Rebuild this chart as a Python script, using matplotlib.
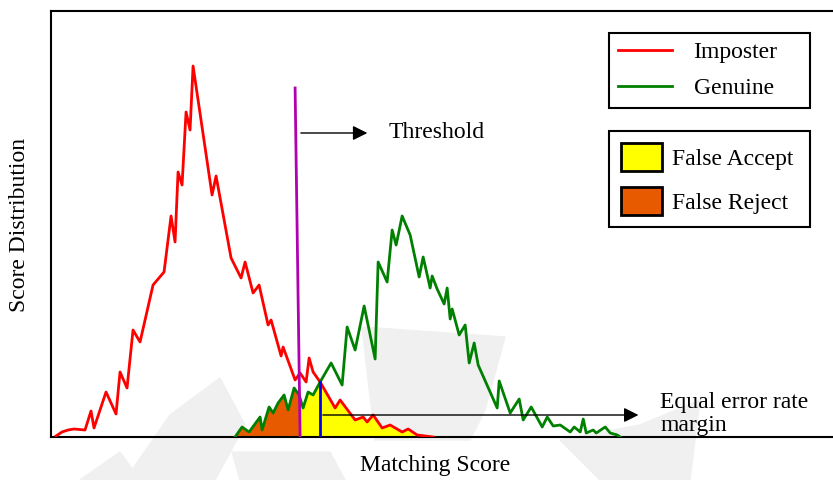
import matplotlib
matplotlib.use("Agg")
import matplotlib.pyplot as plt
from matplotlib.lines import Line2D
from matplotlib.patches import Patch
import numpy as np

plt.rcParams['font.family'] = ['Liberation Serif', 'DejaVu Serif']

# score histograms (score, count)
imposter_x = [5, 11, 17, 23, 34, 40, 43, 55, 65, 69, 76, 82, 89, 102, 113, 120, 124, 127, 131,
              135, 139, 142, 161, 165, 180, 190, 194, 202, 208, 217, 220, 230, 232, 244, 249,
              255, 258, 262, 269, 284, 289, 304, 312, 316, 322, 331, 339, 351, 357, 366, 382]
imposter_y = [1, 5, 7, 8, 7, 26, 9, 45, 23, 65, 49, 107, 95, 152, 165, 221, 195, 265, 252,
              325, 307, 371, 242, 261, 179, 159, 175, 144, 152, 112, 117, 81, 90, 57, 64,
              55, 79, 65, 55, 29, 37, 17, 20, 15, 22, 9, 12, 5, 8, 2, 0]

genuine_x = [184, 191, 198, 209, 211, 218, 222, 227, 233, 237, 243, 248, 252, 257, 262, 269,
             280, 291, 296, 304, 313, 324, 327, 336, 341, 345, 351, 359, 368, 372, 379, 381,
             386, 393, 396, 399, 401, 408, 414, 418, 423, 427, 446, 448, 459, 468, 472, 480,
             491, 496, 502, 509, 519, 523, 529, 532, 535, 542, 545, 554, 559, 566, 569]
genuine_y = [0, 10, 5, 20, 7, 30, 24, 34, 42, 27, 49, 42, 29, 45, 42, 55,
             74, 52, 110, 87, 131, 78, 175, 155, 207, 192, 221, 202, 160, 180, 149, 161,
             148, 133, 149, 118, 128, 102, 112, 74, 94, 72, 29, 56, 24, 38, 17, 30,
             10, 20, 11, 12, 5, 10, 5, 18, 4, 7, 4, 10, 4, 2, 0]

threshold_x = [244, 249]
threshold_y = [349, 0]
eer_x = 269

fig = plt.figure(figsize=(8.33, 4.8), dpi=100)
W, H = 833, 480


def fx(px):
    return px / W


def fy(py):
    return 1 - py / H


# faint watermark behind the plot
wm = '#f0f0f0'
blades = [
    [(125, 480), (170, 415), (220, 378), (245, 425), (215, 480)],
    [(362, 327), (505, 337), (485, 410), (470, 440), (375, 440)],
    [(560, 440), (640, 425), (700, 400), (690, 480), (600, 480)],
    [(232, 452), (330, 452), (345, 480), (240, 480)],
    [(80, 480), (120, 452), (140, 480)],
]
for b in blades:
    fig.patches.append(plt.Polygon([(fx(x), fy(y)) for x, y in b], closed=True,
                                   transform=fig.transFigure, color=wm, zorder=-5))

ax = fig.add_axes([fx(51), fy(437), 1 - fx(51) + 0.01, (437 - 11) / H])
ax.patch.set_alpha(0)
ax.set_xlim(0, 790)
ax.set_ylim(0, 426)

# false accept / false reject regions under the overlap
grid = np.union1d(imposter_x, genuine_x)
grid = np.union1d(grid, threshold_x[1:])
grid = grid[(grid >= genuine_x[0]) & (grid <= imposter_x[-1])]
low = np.minimum(np.interp(grid, imposter_x, imposter_y),
                 np.interp(grid, genuine_x, genuine_y))
ax.fill_between(grid, 0, low, where=grid <= threshold_x[1], color='#e85a00', lw=0, zorder=1)
ax.fill_between(grid, 0, low, where=grid >= threshold_x[1], color='#ffff00', lw=0, zorder=1)

ax.plot(imposter_x, imposter_y, color='#ff0000', lw=2, zorder=3)
ax.plot(genuine_x, genuine_y, color='#008000', lw=2, zorder=3)

ax.plot(threshold_x, threshold_y, color='#b000b0', lw=2, zorder=4)
eer_top = np.interp(eer_x, genuine_x, genuine_y)
ax.plot([eer_x, eer_x], [0, eer_top], color='#0000ff', lw=2, zorder=4)

fs = 17
arrow = dict(arrowstyle='-|>', color='k', lw=1, mutation_scale=22)
ax.annotate('', xy=(319, 304), xytext=(247, 304), arrowprops=arrow)
ax.text(337, 304, 'Threshold', fontsize=fs, va='center', ha='left')
ax.annotate('', xy=(590, 22), xytext=(eer_x, 22), arrowprops=arrow)
ax.text(609, 23, 'Equal error rate\nmargin', fontsize=fs, va='center', ha='left',
        linespacing=1.15)

ax.spines['right'].set_visible(False)
for s in ['left', 'top', 'bottom']:
    ax.spines[s].set_linewidth(1.5)
ax.set_xticks([])
ax.set_yticks([])

fig.text(fx(435), fy(465), 'Matching Score', fontsize=fs, ha='center', va='center')
fig.text(fx(20), fy(225), 'Score Distribution', fontsize=fs, ha='center', va='center',
         rotation=90)

curve_handles = [Line2D([], [], color='#ff0000', lw=2),
                 Line2D([], [], color='#008000', lw=2)]
leg1 = ax.legend(curve_handles, ['Imposter', 'Genuine'], loc='upper left', mode='expand',
                 bbox_to_anchor=(fx(609), fy(107), fx(201), 74 / H),
                 bbox_transform=fig.transFigure,
                 fontsize=fs, fancybox=False, edgecolor='k', framealpha=1,
                 handlelength=2.3, handletextpad=0.9, labelspacing=0.6,
                 borderpad=0.38, borderaxespad=0)
leg1.get_frame().set_linewidth(1.5)
ax.add_artist(leg1)

area_handles = [Patch(facecolor='#ffff00', edgecolor='k', lw=2),
                Patch(facecolor='#e85a00', edgecolor='k', lw=2)]
leg2 = ax.legend(area_handles, ['False Accept', 'False Reject'], loc='upper left',
                 mode='expand', bbox_to_anchor=(fx(609), fy(224), fx(201), 93 / H),
                 bbox_transform=fig.transFigure,
                 fontsize=fs, fancybox=False, edgecolor='k', framealpha=1,
                 handlelength=1.74, handleheight=1.45, handletextpad=0.42,
                 labelspacing=0.68, borderpad=0.5, borderaxespad=0)
leg2.get_frame().set_linewidth(1.5)

fig.savefig('out.png', dpi=100)
